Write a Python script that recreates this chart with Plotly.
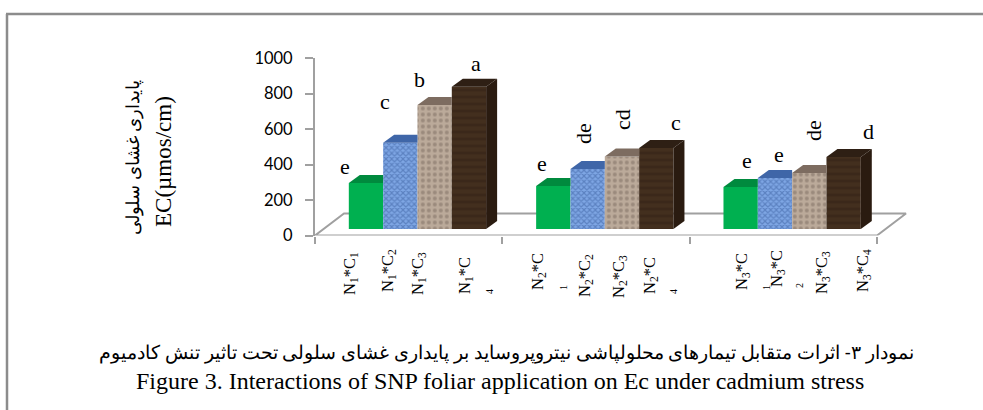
import plotly.graph_objects as go

# ---------- data ----------
groups = [0, 1, 2]
c1_values = [259, 242, 237]
c2_values = [486, 338, 287]
c3_values = [698, 408, 315]
c4_values = [802, 456, 406]
y_ticks = [0, 200, 400, 600, 800, 1000]
letters = ["e", "c", "b", "a", "e", "de", "cd", "c", "e", "e", "de", "d"]
x_labels = [
    "N<sub>1</sub>*C<sub>1</sub>", "N<sub>1</sub>*C<sub>2</sub>", "N<sub>1</sub>*C<sub>3</sub>", "N<sub>1</sub>*C",
    "N<sub>2</sub>*C", "N<sub>2</sub>*C<sub>2</sub>", "N<sub>2</sub>*C<sub>3</sub>", "N<sub>2</sub>*C",
    "N<sub>3</sub>*C", "N<sub>3</sub>*C", "N<sub>3</sub>*C<sub>3</sub>", "N<sub>3</sub>*C<sub>4</sub>",
]
wrapped_subs = ["4", "1", "4", "1", "2"]
title_fa = "نمودار ۳- اثرات متقابل تیمارهای محلولپاشی نیتروپروساید بر پایداری غشای سلولی تحت تاثیر تنش کادمیوم"
title_en = "Figure 3. Interactions of SNP foliar application on Ec under cadmium stress"
ylabel_fa = "پایداری غشای سلولی"
ylabel_en = "EC(µmos/cm)"

# ---------- layout constants (pixels) ----------
W, H = 983, 410
AX_L, AX_R, AX_T, AX_B = 315, 877, 58, 235.5
SHIFT_X, SHIFT_Y = 8.8, 6.5
DEPTH_X, DEPTH_Y = 11, 8
FLOOR_X, FLOOR_Y = 29, 22
EXTRA_R = 40
px_per_x = (AX_R - AX_L) / 3
px_per_y = (AX_B - AX_T) / 1000
BARGAP = 0.267
bar_w = (1 - BARGAP) / 4
dx, dy = DEPTH_X / px_per_x, DEPTH_Y / px_per_y
x_end = 2.5 + EXTRA_R / px_per_x

series = [
    (c1_values, "#00b050", "#008a3e", "#006b30", "", "#00b050", "#00b050", 8, 0.35),
    (c2_values, "#6a94d6", "#3f66a8", "#2f4f85", "x", "#3a5e9e", "#7ea6e4", 4, 0.5),
    (c3_values, "#b8a594", "#7d6c60", "#6e5f55", ".", "#7a6a5e", "#bbaa9a", 6, 0.35),
    (c4_values, "#3e2a1b", "#2e1f14", "#2a1b10", "-", "#2f1f13", "#432f1e", 7, 0.35),
]

fig = go.Figure()

# floor outline, behind the bars
fig.add_trace(go.Scatter(
    x=[-0.5, -0.5 + FLOOR_X / px_per_x, 2.5 + FLOOR_X / px_per_x, 2.5, -0.5],
    y=[0, FLOOR_Y / px_per_y, FLOOR_Y / px_per_y, 0, 0],
    mode="lines", line=dict(color="#a0a0a0", width=2), cliponaxis=False,
    hoverinfo="skip", showlegend=False, xaxis="x", yaxis="y"))

# front faces
for i, (vals, front, top, side, shape, fg, bg, size, solid) in enumerate(series):
    fig.add_trace(go.Bar(
        x=groups, y=vals, name=f"C{i+1}", showlegend=False, xaxis="x2", yaxis="y2",
        marker=dict(color=bg, line_width=0,
                    pattern=dict(shape=shape, fgcolor=fg, bgcolor=bg, size=size, solidity=solid))))

# top and side faces derived from the values
for i, (vals, front, top, side, shape, fg, bg, size, solid) in enumerate(series):
    for g, v in zip(groups, vals):
        xl = g - 2 * bar_w + i * bar_w
        xr = xl + bar_w
        last = i == len(series) - 1
        top_r = xr + dx if last else xr
        fig.add_trace(go.Scatter(
            x=[xl, xl + dx, top_r, xr, xl], y=[v, v + dy, v + dy, v, v],
            mode="lines", fill="toself", fillcolor=top, line=dict(width=0),
            cliponaxis=False, hoverinfo="skip", showlegend=False, xaxis="x2", yaxis="y2"))
        if last:
            fig.add_trace(go.Scatter(
                x=[xr, xr + dx, xr + dx, xr, xr], y=[0, dy, v + dy, v, 0],
                mode="lines", fill="toself", fillcolor=side, line=dict(width=0),
                cliponaxis=False, hoverinfo="skip", showlegend=False, xaxis="x2", yaxis="y2"))

axis_gray = "#a0a0a0"
fig.update_layout(
    autosize=False, width=W, height=H, margin=dict(l=0, r=0, t=0, b=0, autoexpand=False),
    paper_bgcolor="white", plot_bgcolor="rgba(0,0,0,0)",
    barmode="group", bargap=BARGAP, bargroupgap=0, showlegend=False,
    xaxis=dict(domain=[AX_L / W, (AX_R + EXTRA_R) / W], range=[-0.5, x_end], showgrid=False, zeroline=False,
               showline=False, anchor="y",
               tickmode="array", tickvals=[-0.5, 0.5, 1.5, 2.5], ticktext=["", "", "", ""],
               ticks="outside", ticklen=7, tickwidth=2, tickcolor=axis_gray),
    yaxis=dict(domain=[1 - AX_B / H, 1 - AX_T / H], range=[0, 1000], showgrid=False, zeroline=False,
               anchor="x", showline=True, linecolor=axis_gray, linewidth=2,
               tickmode="array", tickvals=y_ticks, ticks="outside", ticklen=8, tickwidth=2,
               tickcolor=axis_gray, ticklabelstandoff=9,
               tickfont=dict(family="Lato", size=16.5, color="black")),
    xaxis2=dict(domain=[(AX_L + SHIFT_X) / W, (AX_R + SHIFT_X) / W], range=[-0.5, 2.5],
                visible=False, anchor="y2"),
    yaxis2=dict(domain=[1 - (AX_B - SHIFT_Y) / H, 1 - (AX_T - SHIFT_Y) / H], range=[0, 1000],
                visible=False, anchor="x2"),
    shapes=[
        dict(type="line", xref="paper", yref="paper", x0=7 / W, x1=7 / W, y0=0, y1=1 - 14 / H,
             line=dict(color="#8c8c8c", width=2.5)),
        dict(type="line", xref="paper", yref="paper", x0=6 / W, x1=1, y0=1 - 14 / H, y1=1 - 14 / H,
             line=dict(color="#8c8c8c", width=2.5)),
    ],
)

def text(x, y, s, size, rot=0, family="Liberation Serif"):
    fig.add_annotation(x=x / W, y=1 - y / H, xref="paper", yref="paper", text=s, showarrow=False,
                       textangle=rot, xanchor="center", yanchor="middle",
                       font=dict(family=family, size=size, color="black"))

letter_pos = [(345, 166, 0), (385, 101, 0), (419, 80, 0), (476, 63, 0),
              (542, 163, 0), (583, 134, -90), (622, 120, -90), (676, 122, 0),
              (747, 160, 0), (779, 154, 0), (813, 131, -90), (868, 131, 0)]
for s, (x, y, r) in zip(letters, letter_pos):
    text(x, y, s, 22, r)

label_pos = [(350, 274), (388, 271), (418, 274), (465, 276), (538, 272), (585, 276),
             (619, 277), (650, 276), (742, 272), (777, 269), (822, 273), (863, 271)]
for s, (x, y) in zip(x_labels, label_pos):
    text(x, y, s, 16.5, -90)
sub_pos = [(489, 292), (563, 288), (673, 292), (766, 288), (799, 286)]
for s, (x, y) in zip(wrapped_subs, sub_pos):
    text(x, y, s, 10, -90)

text(132, 158, ylabel_fa, 17.5, -90, "Noto Sans")
text(163, 162, ylabel_en, 23, -90)
text(506, 351, title_fa, 18.6, 0, "Noto Sans")
text(500, 381, title_en, 24)

fig.write_html("out.html", config={"displayModeBar": False},
               post_script="var s=document.body.style;s.margin='0';s.padding='0';s.overflow='hidden';")
